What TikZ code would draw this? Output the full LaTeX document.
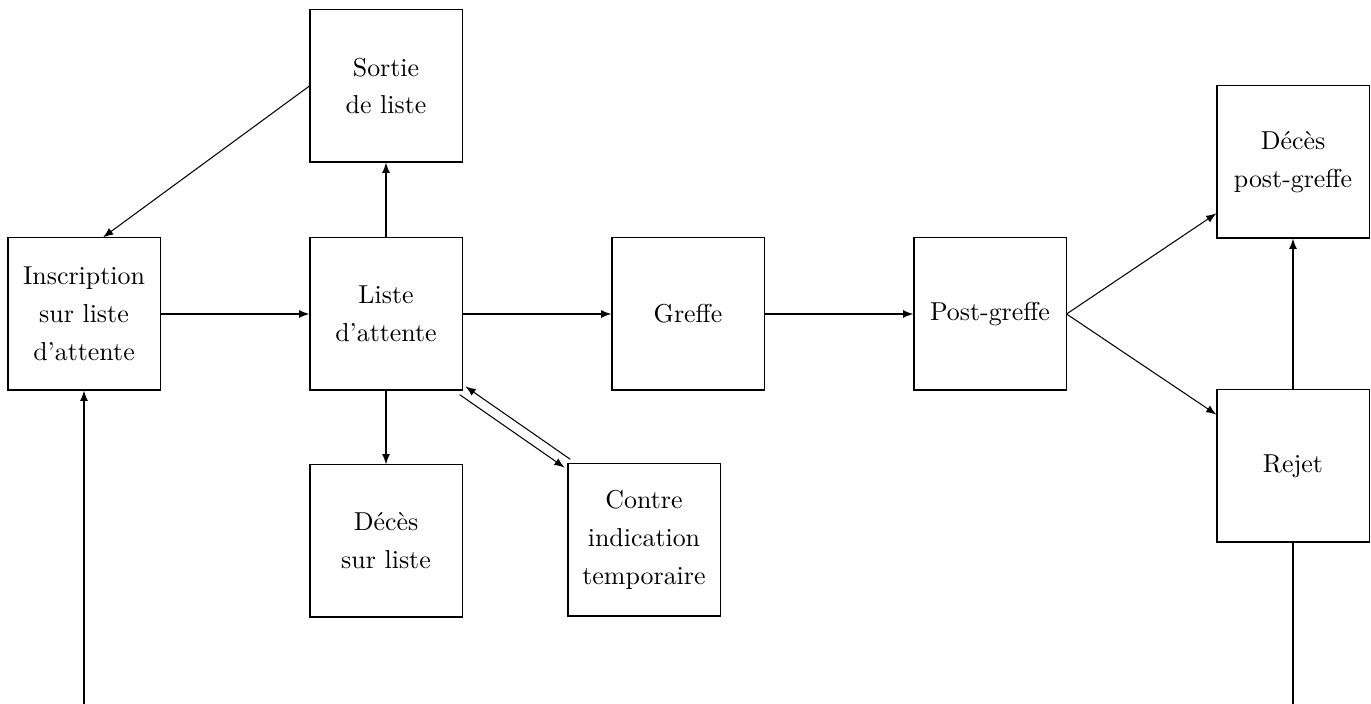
\documentclass[tikz,border=0pt]{standalone}
\usepackage{fontspec}
\begin{document}
\begin{tikzpicture}
[x=0.3861pt,y=-0.3861pt,
etat/.style={draw,minimum size=58.7pt,inner sep=2pt,align=center,font=\linespread{1.22}\selectfont},
>=latex]
\useasboundingbox (0,0) rectangle (1371,704);
\node[etat] (insc) at (84,314) {Inscription\\sur liste\\d'attente};
\node[etat] (sortie) at (386,86) {Sortie\\de liste};
\node[etat] (liste) at (386,314) {Liste\\d'attente};
\node[etat] (greffe) at (688,314) {Greffe};
\node[etat] (post) at (990,314) {Post-greffe};
\node[etat] (decespg) at (1293,162) {Décès\\post-greffe};
\node[etat] (rejet) at (1293,466) {Rejet};
\node[etat] (decesl) at (386,541) {Décès\\sur liste};
\node[etat] (contre) at (644,540) {Contre\\indication\\temporaire};
\coordinate (bas1) at (84,704);
\coordinate (bas2) at (1293,704);
% connecteurs
\draw[->] (insc) -- (liste);
\draw[->] (liste) -- (greffe);
\draw[->] (greffe) -- (post);
\draw[->] (liste) -- (sortie);
\draw[->] (liste) -- (decesl);
\draw[->] (sortie.west) -- ([xshift=7.3pt]insc.north);
\draw[->] ([xshift=-1.1pt,yshift=-1.6pt]liste.south east) -- ([xshift=-1.1pt,yshift=-1.6pt]contre.north west);
\draw[->] ([xshift=1.1pt,yshift=1.6pt]contre.north west) -- ([xshift=1.1pt,yshift=1.6pt]liste.south east);
\draw[->] (post.east) -- (decespg);
\draw[->] (post.east) -- (rejet);
\draw[->] (rejet) -- (decespg);
\draw[->] (bas1) -- (insc);
\draw (rejet) -- (bas2);
\end{tikzpicture}
\end{document}
